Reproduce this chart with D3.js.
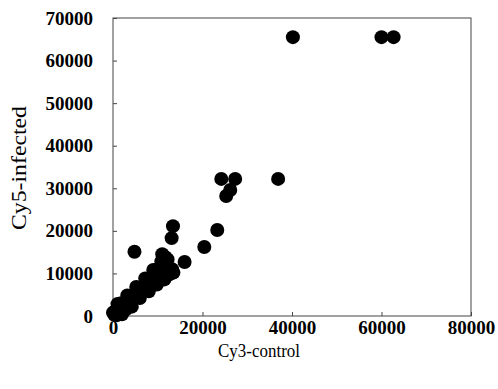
<!DOCTYPE html>
<html>
<head>
<meta charset="utf-8">
<script src="https://cdn.jsdelivr.net/npm/d3@7"></script>
<style>
  html, body { margin: 0; padding: 0; background: #fff; }
  svg { display: block; }
</style>
</head>
<body>
<svg id="chart" width="498" height="389"></svg>
<script>
// ---- data ----
const xTickValues = [0, 20000, 40000, 60000, 80000];
const yTickValues = [0, 10000, 20000, 30000, 40000, 50000, 60000, 70000];
const xTitle = "Cy3-control";
const yTitle = "Cy5-infected";

// Cy3-control intensities
const cy3 = [
  40200, 60000, 62700,
  24200, 27300, 26200, 25300, 36900,
  23300, 20400, 16000, 13100, 13400, 4800,
  300, 800, 1200, 1700, 2200, 2600, 3000, 3500, 3900, 4400,
  4800, 5300, 5800, 6300, 6800, 7300, 7800, 8300, 8800, 9300,
  9800, 10300, 10800, 11200, 11600, 12000, 12200, 11700, 12800, 13200,
  10000, 0, 1800, 900, 2800,
  1000, 2000, 3200, 4200, 5200, 6000, 7200, 8000, 9000, 9800,
  10800, 11500, 12600, 13500, 11000
];
// Cy5-infected intensities
const cy5 = [
  65500, 65500, 65500,
  32200, 32200, 29600, 28200, 32200,
  20200, 16200, 12700, 18300, 21100, 15100,
  300, 1200, 600, 1900, 2400, 1700, 3300, 2900, 4300, 3800,
  5200, 4600, 6000, 5600, 7000, 6700, 8000, 7800, 9000, 8600,
  10000, 9400, 11200, 10200, 12400, 11400, 13300, 13800, 10600, 11000,
  11000, 800, 3000, 200, 1500,
  2800, 400, 4800, 2200, 6800, 4200, 8800, 5800, 10800, 7400,
  12800, 8600, 9800, 10200, 14500
];

// ---- drawing ----
const svg = d3.select("#chart");
const x = d3.scaleLinear().domain([0, 80000]).range([113, 471]);
const y = d3.scaleLinear().domain([0, 70000]).range([316, 18]);
const axisColor = "#444";

// frame
svg.append("rect")
  .attr("x", x(0)).attr("y", y(70000))
  .attr("width", x(80000) - x(0)).attr("height", y(0) - y(70000))
  .attr("fill", "none").attr("stroke", axisColor).attr("stroke-width", 1);

const gx = svg.append("g")
  .attr("transform", `translate(0,${y(0)})`)
  .call(d3.axisBottom(x).tickValues(xTickValues).tickFormat(d3.format("d"))
        .tickSize(-4).tickPadding(5));
const gy = svg.append("g")
  .attr("transform", `translate(${x(0)},0)`)
  .call(d3.axisLeft(y).tickValues(yTickValues).tickFormat(d3.format("d"))
        .tickSize(-4).tickPadding(20));

[gx, gy].forEach(g => {
  g.select(".domain").remove();
  g.selectAll(".tick line").attr("stroke", axisColor);
  g.selectAll(".tick text")
    .attr("fill", "#000")
    .style("font-family", "'Liberation Serif', 'DejaVu Serif', serif")
    .style("font-weight", "bold")
    .style("font-size", "19px");
});

// points
svg.append("g").selectAll("circle")
  .data(cy3.map((v, i) => [v, cy5[i]]))
  .join("circle")
  .attr("cx", d => x(d[0]))
  .attr("cy", d => y(d[1]))
  .attr("r", 7)
  .attr("fill", "#000");

// axis titles
svg.append("text")
  .attr("x", 259).attr("y", 357)
  .attr("text-anchor", "middle")
  .attr("textLength", 82).attr("lengthAdjust", "spacingAndGlyphs")
  .style("font-family", "'Liberation Serif', serif")
  .style("font-size", "19px")
  .text(xTitle);

svg.append("text")
  .attr("transform", "translate(26,168) rotate(-90)")
  .attr("text-anchor", "middle")
  .attr("textLength", 124).attr("lengthAdjust", "spacingAndGlyphs")
  .style("font-family", "'Liberation Serif', serif")
  .style("font-size", "21px")
  .text(yTitle);
</script>
</body>
</html>
